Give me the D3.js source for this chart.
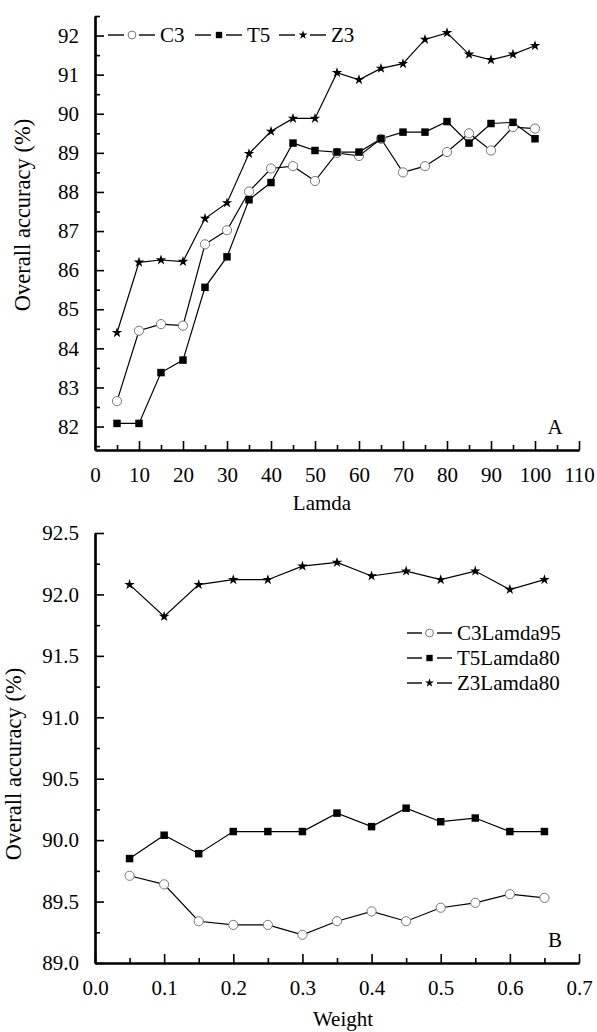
<!DOCTYPE html>
<html>
<head>
<meta charset="utf-8">
<script src="https://cdn.jsdelivr.net/npm/d3@7"></script>
<style>
  body { margin: 0; background: #fff; }
  svg text { font-family: "Liberation Serif", "DejaVu Serif", serif; fill: #000; }
</style>
</head>
<body>
<svg id="chart" width="597" height="1032"></svg>
<script>
// panel A data
var lamda = [5, 10, 15, 20, 25, 30, 35, 40, 45, 50, 55, 60, 65, 70, 75, 80, 85, 90, 95, 100];
var c3 = [82.65, 84.45, 84.62, 84.58, 86.66, 87.02, 88.01, 88.6, 88.66, 88.28, 89.0, 88.92, 89.36, 88.5, 88.66, 89.02, 89.5, 89.06, 89.66, 89.62];
var t5 = [82.08, 82.08, 83.38, 83.7, 85.56, 86.34, 87.8, 88.24, 89.25, 89.06, 89.02, 89.02, 89.36, 89.53, 89.53, 89.8, 89.25, 89.75, 89.78, 89.36];
var z3 = [84.4, 86.2, 86.26, 86.22, 87.32, 87.72, 88.98, 89.55, 89.88, 89.88, 91.05, 90.87, 91.16, 91.28, 91.9, 92.07, 91.52, 91.38, 91.52, 91.74];
var seriesA = ["C3", "T5", "Z3"];

// panel B data
var weight = [0.05, 0.1, 0.15, 0.2, 0.25, 0.3, 0.35, 0.4, 0.45, 0.5, 0.55, 0.6, 0.65];
var c3l95 = [89.71, 89.64, 89.34, 89.31, 89.31, 89.23, 89.34, 89.42, 89.34, 89.45, 89.49, 89.56, 89.53];
var t5l80 = [89.85, 90.04, 89.89, 90.07, 90.07, 90.07, 90.22, 90.11, 90.26, 90.15, 90.18, 90.07, 90.07];
var z3l80 = [92.08, 91.82, 92.08, 92.12, 92.12, 92.23, 92.26, 92.15, 92.19, 92.12, 92.19, 92.04, 92.12];
var seriesB = ["C3Lamda95", "T5Lamda80", "Z3Lamda80"];

var svg = d3.select("#chart");
var fs = 21;
var serif = "Liberation Serif, DejaVu Serif, serif";

function drawMarker(g, kind, x, y, small) {
    var k = small ? 0.85 : 1;
    if (kind == 0) {
        g.append("circle").attr("cx", x).attr("cy", y).attr("r", 4.6 * k)
            .attr("fill", "#fff").attr("stroke", "#777").attr("stroke-width", 1);
    } else {
        var sym = kind == 1 ? d3.symbolSquare : d3.symbolStar;
        var size = kind == 1 ? 56 * k * k : 34 * k * k;
        g.append("path").attr("d", d3.symbol().type(sym).size(size)())
            .attr("transform", "translate(" + x + "," + y + ")")
            .attr("fill", "#000");
    }
}

function panel(opt) {
    var g = svg.append("g");
    var x = d3.scaleLinear().domain(opt.xDom).range([95, 579]);
    var y = d3.scaleLinear().domain(opt.yDom).range([opt.bottom, opt.top]);

    // minor ticks
    g.append("g").attr("transform", "translate(0," + opt.bottom + ")")
        .call(d3.axisBottom(x).tickValues(opt.xMinor).tickSize(-5).tickSizeOuter(0).tickFormat(""));
    g.append("g").attr("transform", "translate(95,0)")
        .call(d3.axisLeft(y).tickValues(opt.yMinor).tickSize(-5).tickSizeOuter(0).tickFormat(""));
    // major ticks
    g.append("g").attr("transform", "translate(0," + opt.bottom + ")")
        .call(d3.axisBottom(x).tickValues(opt.xMajor).tickSize(-9).tickPadding(17).tickSizeOuter(0).tickFormat(opt.xFmt));
    g.append("g").attr("transform", "translate(95,0)")
        .call(d3.axisLeft(y).tickValues(opt.yMajor).tickSize(-9).tickPadding(16).tickSizeOuter(0).tickFormat(opt.yFmt));
    g.selectAll("g").attr("font-family", serif);
    g.selectAll(".tick line").attr("stroke", "#000").attr("stroke-width", 1.6);
    g.selectAll(".domain").attr("stroke", "#000").attr("stroke-width", 2.2);
    g.selectAll(".tick text").attr("font-size", fs).attr("fill", "#000");

    var line = d3.line().x(function(d) { return x(d[0]); }).y(function(d) { return y(d[1]); });
    opt.series.forEach(function(vals, si) {
        var pts = opt.xs.map(function(v, i) { return [v, vals[i]]; });
        g.append("path").attr("d", line(pts)).attr("fill", "none")
            .attr("stroke", "#000").attr("stroke-width", 1.2);
    });
    opt.series.forEach(function(vals, si) {
        opt.xs.forEach(function(v, i) { drawMarker(g, si, x(v), y(vals[i]), false); });
    });

    g.append("text").attr("x", opt.xLabelX).attr("y", opt.xLabelY)
        .attr("text-anchor", "middle").attr("font-size", fs).text(opt.xLabel);
    g.append("text").attr("transform", "translate(" + opt.yLabelX + "," + opt.yLabelY + ") rotate(-90)")
        .attr("text-anchor", "middle").attr("font-size", 22.5).text("Overall accuracy (%)");
    g.append("text").attr("x", 555).attr("y", opt.bottom - 16)
        .attr("text-anchor", "middle").attr("font-size", fs).text(opt.tag);
    return g;
}

panel({
    xDom: [0, 110], yDom: [81.4, 92.5], top: 16, bottom: 450,
    xMajor: d3.range(0, 111, 10), xMinor: d3.range(5, 110, 10),
    yMajor: d3.range(82, 93, 1), yMinor: d3.range(81.5, 92.6, 1),
    xFmt: d3.format("d"), yFmt: d3.format("d"),
    xs: lamda, series: [c3, t5, z3],
    xLabel: "Lamda", xLabelX: 322, xLabelY: 510, yLabelX: 30, yLabelY: 215, tag: "A"
});

panel({
    xDom: [0, 0.7], yDom: [89, 92.5], top: 533, bottom: 963,
    xMajor: d3.range(0, 0.71, 0.1), xMinor: d3.range(0.05, 0.7, 0.1),
    yMajor: d3.range(89, 92.51, 0.5), yMinor: d3.range(89.25, 92.5, 0.5),
    xFmt: d3.format(".1f"), yFmt: d3.format(".1f"),
    xs: weight, series: [c3l95, t5l80, z3l80],
    xLabel: "Weight", xLabelX: 343, xLabelY: 1026, yLabelX: 21, yLabelY: 764, tag: "B"
});

// legend A: one row along the top
var legA = svg.append("g");
var legAx = [108, 195, 279];
seriesA.forEach(function(name, i) {
    var x0 = legAx[i], yy = 35;
    legA.append("line").attr("x1", x0).attr("x2", x0 + 16).attr("y1", yy).attr("y2", yy).attr("stroke", "#000").attr("stroke-width", 1.4);
    legA.append("line").attr("x1", x0 + 31).attr("x2", x0 + 47).attr("y1", yy).attr("y2", yy).attr("stroke", "#000").attr("stroke-width", 1.4);
    drawMarker(legA, i, x0 + 24, yy, true);
    legA.append("text").attr("x", x0 + 52).attr("y", yy + 7).attr("font-size", fs).text(name);
});

// legend B: stacked rows
var legB = svg.append("g");
seriesB.forEach(function(name, i) {
    var x0 = 407, yy = 633 + i * 25;
    legB.append("line").attr("x1", x0).attr("x2", x0 + 15).attr("y1", yy).attr("y2", yy).attr("stroke", "#000").attr("stroke-width", 1.4);
    legB.append("line").attr("x1", x0 + 30).attr("x2", x0 + 45).attr("y1", yy).attr("y2", yy).attr("stroke", "#000").attr("stroke-width", 1.4);
    drawMarker(legB, i, x0 + 22.5, yy, true);
    legB.append("text").attr("x", x0 + 50).attr("y", yy + 7).attr("font-size", fs).text(name);
});
</script>
</body>
</html>
